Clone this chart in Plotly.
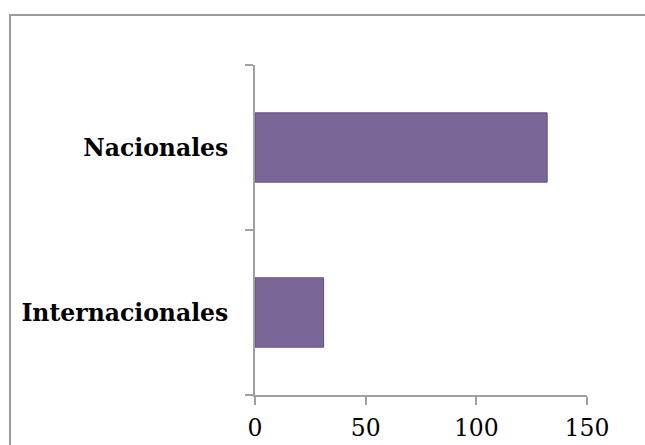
import plotly.graph_objects as go

categories = ["Internacionales", "Nacionales"]
values = [31, 132]
x_ticks = [0, 50, 100, 150]

W, H = 645, 445
L, R, T, B = 255, 58, 65, 50
pw, ph = W - L - R, H - T - B

def px_x(p):
    return (p - L) / pw

def px_y(p):
    return (H - B - p) / ph

fig = go.Figure()
fig.add_trace(go.Bar(
    y=categories, x=values, orientation="h",
    marker=dict(color="#7a6797", line=dict(color="#5f4f7c", width=1)),
    hoverinfo="skip",
))

fig.update_layout(
    width=W, height=H,
    margin=dict(l=L, r=R, t=T, b=B, pad=0, autoexpand=False),
    paper_bgcolor="white", plot_bgcolor="white",
    showlegend=False,
    bargap=0.58,
    xaxis=dict(
        range=[0, 150], tickvals=x_ticks, showgrid=False, zeroline=False,
        automargin=False,
        showline=True, linecolor="#a0a0a0", linewidth=2,
        ticks="outside", ticklen=8, tickcolor="#a0a0a0", tickwidth=2,
        tickfont=dict(family="DejaVu Serif", size=23.5, color="black"),
        ticklabelstandoff=3,
    ),
    yaxis=dict(
        showgrid=False, zeroline=False, automargin=False,
        showline=True, linecolor="#a0a0a0", linewidth=2,
        ticks="outside", ticklen=8, tickcolor="#a0a0a0", tickwidth=2,
        tickson="boundaries",
        tickfont=dict(family="DejaVu Serif", size=23.5, color="black", weight="bold"),
        ticklabelstandoff=20,
    ),
    shapes=[dict(
        type="rect", xref="paper", yref="paper",
        x0=px_x(10), x1=px_x(700), y0=px_y(700), y1=px_y(15),
        line=dict(color="#9a9a9a", width=2), fillcolor="rgba(0,0,0,0)",
        layer="below",
    )],
)

fig.write_html("out.html")
